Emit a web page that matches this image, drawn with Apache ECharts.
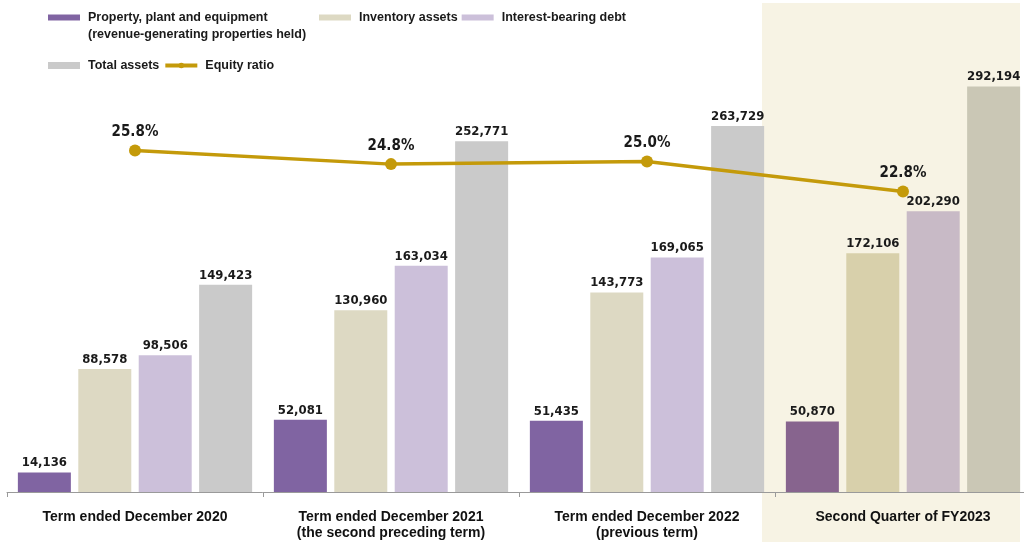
<!DOCTYPE html>
<html>
<head>
<meta charset="utf-8">
<script src="https://cdn.jsdelivr.net/npm/echarts@6/dist/echarts.min.js"></script>
<style>
html,body{margin:0;padding:0;background:#fff;overflow:hidden;width:1024px;height:542px;}
#chart{width:1032px;height:542px;}
</style>
</head>
<body>
<div id="chart"></div>
<script>
const categories = [
  'Term ended December 2020',
  'Term ended December 2021\n(the second preceding term)',
  'Term ended December 2022\n(previous term)',
  'Second Quarter of FY2023'
];
const ppe = [14136, 52081, 51435, 50870];
const inventory = [88578, 130960, 143773, 172106];
const debt = [98506, 163034, 169065, 202290];
const totalAssets = [149423, 252771, 263729, 292194];
const equityRatio = [25.8, 24.8, 25.0, 22.8];

const seriesNames = [
  'Property, plant and equipment',
  'Inventory assets',
  'Interest-bearing debt',
  'Total assets',
  'Equity ratio'
];
const baseColors = ['#8064a2', '#ddd9c3', '#ccc0da', '#cacaca'];
const hlColors = ['#87648e', '#d8d0ab', '#c8bac6', '#cac7b5'];
const lineColor = '#c49a0a';

const chart = echarts.init(document.getElementById('chart'));

function barData(vals, idx) {
  return vals.map((v, i) => i === vals.length - 1
    ? { value: v, itemStyle: { color: hlColors[idx] } }
    : v);
}

const barLabel = {
  show: true,
  position: 'top',
  distance: 3,
  color: '#1a1a1a',
  fontFamily: '"DejaVu Sans Condensed", "DejaVu Sans", sans-serif',
  fontWeight: 'bold',
  fontSize: 13,
  formatter: p => p.value.toLocaleString('en-US')
};

const legendText = {
  color: '#1a1a1a',
  fontFamily: '"Liberation Sans", Arial, sans-serif',
  fontWeight: 'bold',
  fontSize: 12.5,
  padding: [0, 0, 0, 3]
};

const bars = [ppe, inventory, debt, totalAssets].map((vals, idx) => ({
  name: seriesNames[idx],
  type: 'bar',
  barWidth: 53,
  barGap: '14%',
  itemStyle: { color: baseColors[idx] },
  label: barLabel,
  data: barData(vals, idx),
  z: 2
}));

chart.setOption({
  animation: false,
  backgroundColor: '#ffffff',
  graphic: [
    {
      type: 'rect',
      z: -10,
      shape: { x: 762, y: 3, width: 258, height: 539 },
      style: { fill: '#f7f3e4' },
      silent: true
    },
    {
      type: 'text',
      left: 88,
      top: 28,
      style: {
        text: '(revenue-generating properties held)',
        fill: '#1a1a1a',
        font: 'bold 12.5px "Liberation Sans", Arial, sans-serif'
      }
    }
  ],
  legend: [
    {
      left: 48, top: 11, padding: 0,
      itemWidth: 32, itemHeight: 6, itemGap: 4,
      textStyle: legendText,
      data: [{ name: seriesNames[0], icon: 'rect' }]
    },
    {
      left: 319, top: 11, padding: 0,
      itemWidth: 32, itemHeight: 6, itemGap: 4,
      textStyle: legendText,
      data: [{ name: seriesNames[1], icon: 'rect' }, { name: seriesNames[2], icon: 'rect' }]
    },
    {
      left: 48, top: 59, padding: 0,
      itemWidth: 32, itemHeight: 7, itemGap: 4,
      textStyle: legendText,
      lineStyle: { width: 4 },
      data: [{ name: seriesNames[3], icon: 'rect' }, { name: seriesNames[4] }]
    }
  ],
  grid: { left: 7, top: 48, right: 1, height: 444, containLabel: false },
  xAxis: {
    type: 'category',
    data: categories,
    boundaryGap: true,
    axisLine: { lineStyle: { color: '#9a9a9a', width: 1 } },
    axisTick: { show: true, length: 5, lineStyle: { color: '#9a9a9a' } },
    axisLabel: {
      margin: 17,
      interval: 0,
      color: '#111',
      fontFamily: '"Liberation Sans", Arial, sans-serif',
      fontWeight: 'bold',
      fontSize: 14,
      lineHeight: 16
    }
  },
  yAxis: [
    { type: 'value', min: 0, max: 320000, show: false, splitLine: { show: false } },
    { type: 'value', min: 0.8, max: 33.3, show: false, splitLine: { show: false } }
  ],
  series: bars.concat([{
    name: seriesNames[4],
    type: 'line',
    yAxisIndex: 1,
    data: equityRatio,
    symbol: 'circle',
    symbolSize: 12,
    itemStyle: { color: lineColor },
    lineStyle: { color: lineColor, width: 3.5 },
    z: 5,
    label: {
      show: true,
      position: 'top',
      distance: 5,
      color: '#1a1a1a',
      fontFamily: '"DejaVu Sans Condensed", "DejaVu Sans", sans-serif',
      fontWeight: 'bold',
      fontSize: 15,
      formatter: p => p.value.toFixed(1) + '%'
    }
  }])
});
</script>
</body>
</html>
